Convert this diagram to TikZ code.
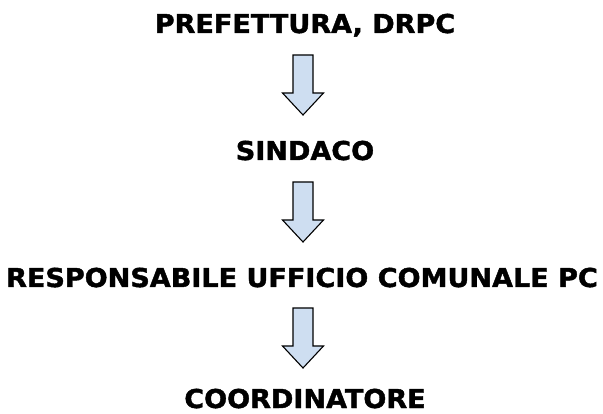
\documentclass[tikz,border=0pt]{standalone}
\usepackage{fontspec}
\newfontfamily\lblfont{DejaVu Sans}[FakeStretch=1.04, BoldFeatures={FakeBold=1.6}]
\definecolor{arrowblue}{RGB}{206,222,241}
\tikzset{
  lbl/.style={anchor=base, inner sep=0pt, font=\lblfont\bfseries\fontsize{26}{30}\selectfont},
  barrow/.style={draw=black, line width=1.1pt, fill=arrowblue, line join=miter},
}
\begin{document}
\begin{tikzpicture}[x=1pt,y=-1pt]
\useasboundingbox (0,0) rectangle (603,414);
\node[lbl] (a) at (305,33) {PREFETTURA, DRPC};
\node[lbl] (b) at (305,160) {SINDACO};
\node[lbl] (c) at (302,287) {RESPONSABILE UFFICIO COMUNALE PC};
\node[lbl] (d) at (305,408) {COORDINATORE};
\coordinate (ab) at (303,55);
\coordinate (bc) at (303,182);
\coordinate (cd) at (303,308);
\foreach \p in {ab,bc,cd}
  \draw[barrow, shift={(\p)}] (-10,0) -- (10,0) -- (10,38) -- (20.5,38) -- (0,60) -- (-20.5,38) -- (-10,38) -- cycle;
\end{tikzpicture}
\end{document}
